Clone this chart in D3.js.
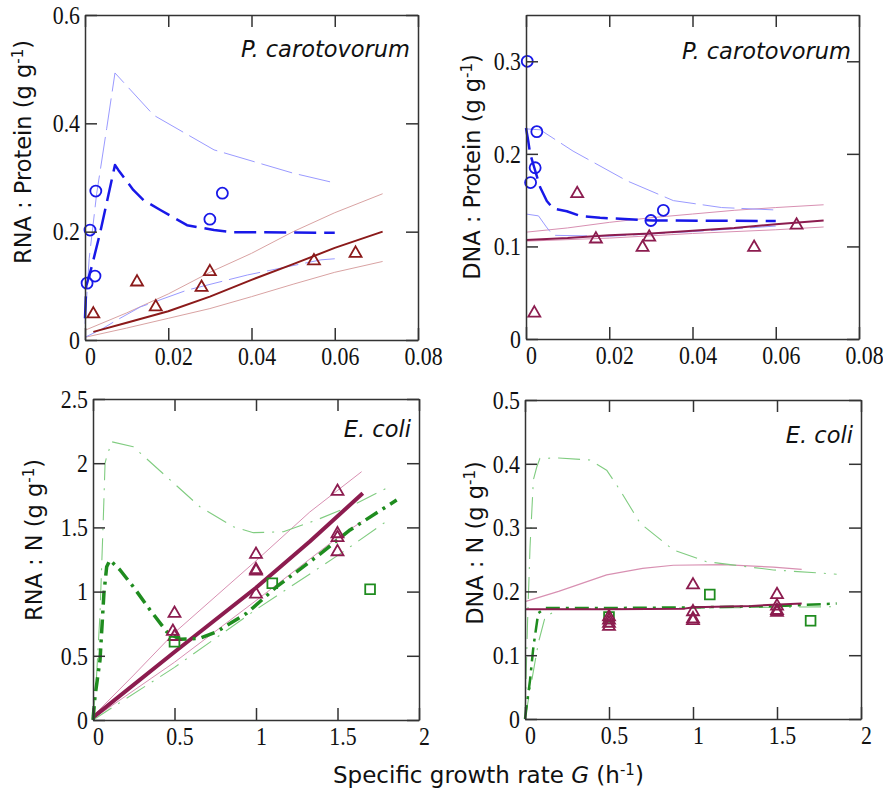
<!DOCTYPE html>
<html>
<head>
<meta charset="utf-8">
<script src="https://cdn.jsdelivr.net/npm/d3@7"></script>
<style>
  body { margin: 0; background: #fff; }
  .title { font-family: 'DejaVu Sans', Verdana, sans-serif; font-size: 22.5px; fill: #111; }
</style>
</head>
<body>
<div id="chart"></div>
<script>
// ---- data ----
// P. carotovorum, RNA : Protein
const pcRnaCircG = [0.0005, 0.0012, 0.0024, 0.0026, 0.030, 0.033];
const pcRnaCircV = [0.105, 0.203, 0.118, 0.275, 0.223, 0.271];
const pcRnaTriG = [0.002, 0.0125, 0.017, 0.028, 0.030, 0.055, 0.065];
const pcRnaTriV = [0.048, 0.107, 0.061, 0.097, 0.126, 0.146, 0.160];
const pcRnaRedMean = [[0.002, 0.015], [0.01, 0.032], [0.02, 0.053], [0.03, 0.08], [0.04, 0.111], [0.05, 0.14], [0.06, 0.17], [0.0715, 0.2]];
const pcRnaRedHi = [[0, 0.018], [0.01, 0.05], [0.02, 0.085], [0.03, 0.125], [0.04, 0.16], [0.05, 0.2], [0.06, 0.235], [0.0715, 0.27]];
const pcRnaRedLo = [[0, 0.005], [0.01, 0.022], [0.02, 0.04], [0.03, 0.058], [0.04, 0.08], [0.05, 0.103], [0.06, 0.125], [0.0715, 0.145]];
const pcRnaBlueMean = [[0, 0.04], [0.0003, 0.1], [0.0016, 0.135], [0.0036, 0.197], [0.0064, 0.295], [0.0072, 0.323], [0.008, 0.314], [0.0116, 0.277], [0.0141, 0.258], [0.0181, 0.24], [0.0245, 0.212], [0.031, 0.203], [0.0357, 0.199], [0.06, 0.198]];
const pcRnaBlueHi = [[0, 0.03], [0.001, 0.15], [0.0028, 0.27], [0.0052, 0.39], [0.0072, 0.493], [0.0165, 0.415], [0.031, 0.351], [0.05, 0.308], [0.06, 0.29]];
const pcRnaBlueLo = [[0, 0.005], [0.004, 0.02], [0.0077, 0.037], [0.0133, 0.061], [0.0245, 0.092], [0.039, 0.12], [0.0567, 0.148], [0.06, 0.15]];

// P. carotovorum, DNA : Protein
const pcDnaCircG = [0.0003, 0.0011, 0.0022, 0.0026, 0.030, 0.033];
const pcDnaCircV = [0.300, 0.169, 0.185, 0.224, 0.128, 0.139];
const pcDnaTriG = [0.002, 0.0123, 0.0168, 0.028, 0.0296, 0.0548, 0.065];
const pcDnaTriV = [0.028, 0.157, 0.108, 0.099, 0.110, 0.099, 0.123];
const pcDnaRedMean = [[0, 0.107], [0.01, 0.109], [0.02, 0.112], [0.03, 0.114], [0.04, 0.117], [0.05, 0.12], [0.06, 0.124], [0.0715, 0.128]];
const pcDnaRedHi = [[0, 0.1154], [0.01, 0.12], [0.02, 0.126], [0.03, 0.131], [0.04, 0.135], [0.05, 0.139], [0.06, 0.142], [0.0715, 0.145]];
const pcDnaRedLo = [[0, 0.1057], [0.02, 0.109], [0.04, 0.114], [0.06, 0.118], [0.0715, 0.121]];
const pcDnaBlueMean = [[0, 0.228], [0.0005, 0.215], [0.001, 0.2], [0.002, 0.185], [0.0034, 0.164], [0.005, 0.149], [0.0065, 0.141], [0.0098, 0.138], [0.013, 0.133], [0.0178, 0.131], [0.0305, 0.128], [0.06, 0.1275]];
const pcDnaBlueHi = [[0, 0.227], [0.0034, 0.226], [0.0113, 0.203], [0.0242, 0.171], [0.0354, 0.1495], [0.047, 0.142], [0.0594, 0.1395]];
const pcDnaBlueLo = [[0, 0.135], [0.003, 0.133], [0.0049, 0.121], [0.0065, 0.112], [0.02, 0.111], [0.04, 0.116], [0.06, 0.122]];

// E. coli, RNA : N
const ecRnaTriG = [0.5, 0.49, 0.5, 1.0, 1.0, 1.0, 1.0, 1.5, 1.5, 1.5, 1.5];
const ecRnaTriV = [0.83, 0.69, 0.65, 1.29, 1.17, 1.16, 0.98, 1.78, 1.45, 1.42, 1.31];
const ecRnaSqG = [0.5, 1.1, 1.7];
const ecRnaSqV = [0.61, 1.065, 1.018];
const ecRnaMagMean = [[0, 0.02], [0.5, 0.53], [1.0, 1.03], [1.33, 1.39], [1.655, 1.766]];
const ecRnaMagHi = [[0, 0.03], [0.25, 0.35], [0.5, 0.68], [1.0, 1.24], [1.33, 1.62], [1.648, 1.934]];
const ecRnaMagLo = [[0, 0.01], [0.5, 0.45], [1.0, 0.93], [1.5, 1.42], [1.648, 1.544]];
const ecRnaGreenMean = [[0, 0], [0.012, 0.18], [0.043, 0.467], [0.067, 0.987], [0.084, 1.194], [0.104, 1.246], [0.166, 1.168], [0.247, 1.038], [0.35, 0.857], [0.452, 0.688], [0.534, 0.628], [0.656, 0.636], [0.759, 0.688], [0.943, 0.831], [1.127, 1.038], [1.372, 1.272], [1.577, 1.48], [1.863, 1.713]];
const ecRnaGreenHi = [[0, 0], [0.02, 0.3], [0.043, 0.83], [0.063, 1.558], [0.074, 2.0], [0.084, 2.05], [0.115, 2.167], [0.247, 2.128], [0.452, 1.894], [0.656, 1.661], [0.861, 1.505], [0.984, 1.459], [1.168, 1.466], [1.372, 1.558], [1.597, 1.675], [1.812, 1.812]];
const ecRnaGreenLo = [[0, 0], [0.5, 0.41], [1.0, 0.86], [1.5, 1.28], [1.812, 1.558]];

// E. coli, DNA : N
const ecDnaTriG = [0.5, 0.5, 0.5, 0.5, 1.0, 1.0, 1.0, 1.0, 1.5, 1.5, 1.5, 1.5];
const ecDnaTriV = [0.16, 0.155, 0.15, 0.145, 0.21, 0.168, 0.157, 0.154, 0.195, 0.177, 0.17, 0.167];
const ecDnaSqG = [0.5, 1.1, 1.7];
const ecDnaSqV = [0.16, 0.195, 0.154];
const ecDnaMagMean = [[0, 0.172], [0.5, 0.172], [0.95, 0.173], [1.0, 0.175], [1.35, 0.177], [1.4, 0.178], [1.647, 0.181]];
const ecDnaMagHi = [[0, 0.184], [0.2, 0.2], [0.486, 0.226], [0.7, 0.236], [0.883, 0.241], [1.18, 0.242], [1.478, 0.238], [1.647, 0.2346]];
const ecDnaGreenMean = [[0, 0], [0.03, 0.061], [0.05, 0.113], [0.079, 0.166], [0.12, 0.174], [0.5, 0.174], [1.0, 0.175], [1.5, 0.177], [1.855, 0.181]];
const ecDnaGreenHi = [[0, 0], [0.015, 0.15], [0.03, 0.27], [0.05, 0.375], [0.07, 0.395], [0.089, 0.4086], [0.2, 0.409], [0.387, 0.406], [0.486, 0.39], [0.565, 0.359], [0.685, 0.307], [0.883, 0.265], [1.08, 0.2466], [1.478, 0.2336], [1.855, 0.227]];
const ecDnaGreenLo = [[0, 0], [0.04, 0.06], [0.08, 0.12], [0.12, 0.16], [0.2, 0.172], [1.85, 0.176]];

// tick labels
const pcXTicks = [0, 0.02, 0.04, 0.06, 0.08];
const pcRnaYTicks = [0, 0.2, 0.4, 0.6];
const pcDnaYTicks = [0, 0.1, 0.2, 0.3];
const ecXTicks = [0, 0.5, 1, 1.5, 2];
const ecRnaYTicks = [0, 0.5, 1, 1.5, 2, 2.5];
const ecDnaYTicks = [0, 0.1, 0.2, 0.3, 0.4, 0.5];

// colours
const BLUE = '#1818e8', BLUE_LT = '#9a9aff';
const RED = '#8b1a1a', RED_LT = '#d9a3a3';
const MAG = '#8c1c4f', MAG_LT = '#d890b2';
const GREEN = '#1f8c1f', GREEN_LT = '#80cc80';

const svg = d3.select('#chart').append('svg')
    .attr('width', 883)
    .attr('height', 790)
    .style('background', '#fff');

// frame + inward ticks styling for one axis group
function styleAxis(sel) {
    sel.selectAll('path, line').attr('stroke', '#333').attr('stroke-width', 1.5);
    sel.selectAll('text')
        .attr('fill', '#111')
        .style('font-family', "'Liberation Serif', 'Times New Roman', serif")
        .style('font-size', '26px');
}

function drawPanel(p) {
    const x = d3.scaleLinear().domain(p.xDomain).range([p.left, p.right]);
    const y = d3.scaleLinear().domain(p.yDomain).range([p.bottom, p.top]);
    const g = svg.append('g');

    const line = d3.line().x(d => x(d[0])).y(d => y(d[1]));

    // model curves
    p.lines.forEach(l => {
        g.append('path')
            .datum(l.data)
            .attr('d', line)
            .attr('fill', 'none')
            .attr('stroke', l.color)
            .attr('stroke-width', l.width)
            .attr('stroke-dasharray', l.dash || null)
            .attr('stroke-linejoin', 'round');
    });

    // measured points
    p.points.forEach(s => {
        const pts = s.g.map((v, i) => [v, s.v[i]]);
        if (s.shape === 'circle') {
            g.selectAll(null).data(pts).enter().append('circle')
                .attr('cx', d => x(d[0])).attr('cy', d => y(d[1]))
                .attr('r', 5.5)
                .attr('fill', 'none').attr('stroke', s.color).attr('stroke-width', 1.8);
        } else {
            const sym = s.shape === 'square'
                ? d3.symbol(d3.symbolSquare, 95)
                : d3.symbol(d3.symbolTriangle, 62);
            g.selectAll(null).data(pts).enter().append('path')
                .attr('d', sym)
                .attr('transform', d => `translate(${x(d[0])},${y(d[1])})`)
                .attr('fill', 'none').attr('stroke', s.color).attr('stroke-width', 1.8);
        }
    });

    // axes: ticks point inward on all four sides
    // (tick digits are tall and narrow in the original, so squeeze them horizontally)
    g.append('g')
        .attr('transform', `translate(0,${p.bottom})`)
        .call(d3.axisBottom(x).tickValues(p.xTicks).tickSizeInner(-12).tickSizeOuter(0)
            .tickPadding(7).tickFormat(d => String(d)))
        .call(styleAxis)
        .selectAll('text').attr('transform', 'translate(5,0) scale(0.84,1)');
    g.append('g')
        .attr('transform', `translate(0,${p.top})`)
        .call(d3.axisTop(x).tickValues(p.xTicks).tickSizeInner(-12).tickSizeOuter(0).tickFormat(''))
        .call(styleAxis);
    g.append('g')
        .attr('transform', `translate(${p.left},0)`)
        .call(d3.axisLeft(y).tickValues(p.yTicks).tickSizeInner(-12).tickSizeOuter(0)
            .tickPadding(0).tickFormat(d => String(d)))
        .call(styleAxis)
        .selectAll('text').attr('transform', 'translate(-5,0) scale(0.84,1)');
    g.append('g')
        .attr('transform', `translate(${p.right},0)`)
        .call(d3.axisRight(y).tickValues(p.yTicks).tickSizeInner(-12).tickSizeOuter(0).tickFormat(''))
        .call(styleAxis);

    // y title
    const yt = svg.append('text')
        .attr('class', 'title')
        .attr('transform', `translate(${p.yTitleX},${p.yTitleY}) rotate(-90)`)
        .attr('text-anchor', 'middle');
    yt.append('tspan').text(p.yTitle + ' (g g');
    yt.append('tspan').attr('dy', -8).style('font-size', '15px').text('-1');
    yt.append('tspan').attr('dy', 8).text(')');

    // organism label
    svg.append('text')
        .attr('class', 'title')
        .attr('x', p.right - 8)
        .attr('y', p.top + p.labelDy)
        .attr('text-anchor', 'end')
        .style('font-style', 'italic')
        .text(p.organism);
}

drawPanel({
    left: 85, right: 418, top: 15, bottom: 340,
    xDomain: [0, 0.08], yDomain: [0, 0.6],
    xTicks: pcXTicks, yTicks: pcRnaYTicks,
    yTitle: 'RNA : Protein', yTitleX: 31, yTitleY: 152,
    organism: 'P. carotovorum', labelDy: 42,
    lines: [
        { data: pcRnaRedHi, color: RED_LT, width: 1 },
        { data: pcRnaRedLo, color: RED_LT, width: 1 },
        { data: pcRnaBlueHi, color: BLUE_LT, width: 1, dash: '32,7' },
        { data: pcRnaBlueLo, color: BLUE_LT, width: 1, dash: '32,7' },
        { data: pcRnaBlueMean, color: BLUE, width: 2.5, dash: '22,8' },
        { data: pcRnaRedMean, color: RED, width: 2 }
    ],
    points: [
        { g: pcRnaCircG, v: pcRnaCircV, shape: 'circle', color: BLUE },
        { g: pcRnaTriG, v: pcRnaTriV, shape: 'triangle', color: RED }
    ]
});

drawPanel({
    left: 526, right: 859, top: 15, bottom: 339,
    xDomain: [0, 0.08], yDomain: [0, 0.35],
    xTicks: pcXTicks, yTicks: pcDnaYTicks,
    yTitle: 'DNA : Protein', yTitleX: 480, yTitleY: 167,
    organism: 'P. carotovorum', labelDy: 44,
    lines: [
        { data: pcDnaRedHi, color: MAG_LT, width: 1 },
        { data: pcDnaRedLo, color: MAG_LT, width: 1 },
        { data: pcDnaBlueHi, color: BLUE_LT, width: 1, dash: '32,7' },
        { data: pcDnaBlueLo, color: BLUE_LT, width: 1, dash: '32,7' },
        { data: pcDnaBlueMean, color: BLUE, width: 2.5, dash: '22,8' },
        { data: pcDnaRedMean, color: MAG, width: 2 }
    ],
    points: [
        { g: pcDnaCircG, v: pcDnaCircV, shape: 'circle', color: BLUE },
        { g: pcDnaTriG, v: pcDnaTriV, shape: 'triangle', color: MAG }
    ]
});

drawPanel({
    left: 93, right: 419, top: 399, bottom: 720,
    xDomain: [0, 2], yDomain: [0, 2.5],
    xTicks: ecXTicks, yTicks: ecRnaYTicks,
    yTitle: 'RNA : N', yTitleX: 42, yTitleY: 540,
    organism: 'E. coli', labelDy: 38,
    lines: [
        { data: ecRnaMagHi, color: MAG_LT, width: 1 },
        { data: ecRnaMagLo, color: MAG_LT, width: 1 },
        { data: ecRnaGreenHi, color: GREEN_LT, width: 1.1, dash: '22,8,2,8' },
        { data: ecRnaGreenLo, color: GREEN_LT, width: 1.1, dash: '22,8,2,8' },
        { data: ecRnaMagMean, color: MAG, width: 4 },
        { data: ecRnaGreenMean, color: GREEN, width: 3.5, dash: '14,6,3,6' }
    ],
    points: [
        { g: ecRnaTriG, v: ecRnaTriV, shape: 'triangle', color: MAG },
        { g: ecRnaSqG, v: ecRnaSqV, shape: 'square', color: GREEN }
    ]
});

drawPanel({
    left: 525, right: 861, top: 400, bottom: 719,
    xDomain: [0, 2], yDomain: [0, 0.5],
    xTicks: ecXTicks, yTicks: ecDnaYTicks,
    yTitle: 'DNA : N', yTitleX: 483, yTitleY: 543,
    organism: 'E. coli', labelDy: 43,
    lines: [
        { data: ecDnaMagHi, color: MAG_LT, width: 1.2 },
        { data: ecDnaGreenHi, color: GREEN_LT, width: 1.1, dash: '22,8,2,8' },
        { data: ecDnaGreenLo, color: GREEN_LT, width: 1.1, dash: '22,8,2,8' },
        { data: ecDnaGreenMean, color: GREEN, width: 2.5, dash: '14,6,3,6' },
        { data: ecDnaMagMean, color: MAG, width: 2 }
    ],
    points: [
        { g: ecDnaSqG, v: ecDnaSqV, shape: 'square', color: GREEN },
        { g: ecDnaTriG, v: ecDnaTriV, shape: 'triangle', color: MAG }
    ]
});

// shared x title
const xt = svg.append('text')
    .attr('class', 'title')
    .attr('x', 333)
    .attr('y', 783)
    .style('font-size', '23px');
xt.append('tspan').text('Specific growth rate ');
xt.append('tspan').style('font-style', 'italic').text('G');
xt.append('tspan').text(' (h');
xt.append('tspan').attr('dy', -8).style('font-size', '15px').text('-1');
xt.append('tspan').attr('dy', 8).text(')');
</script>
</body>
</html>
